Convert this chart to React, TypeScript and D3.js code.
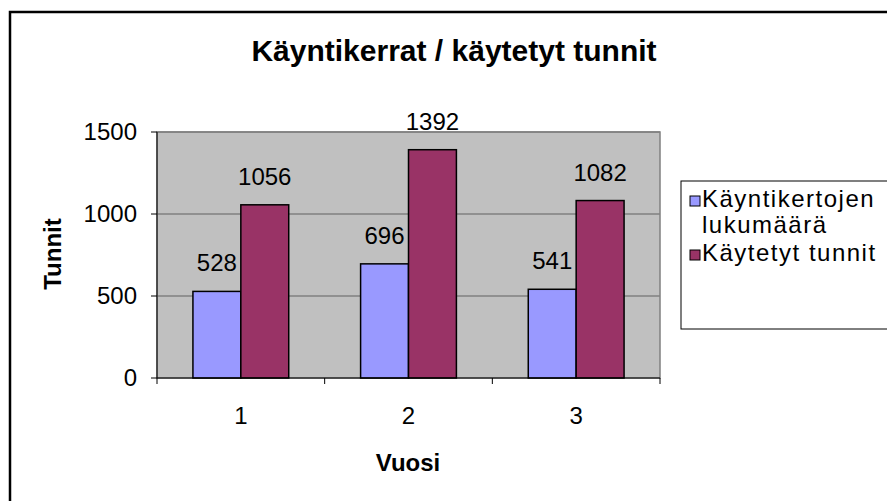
import React from "react";
import * as d3 from "d3";

const years = ["1", "2", "3"];
const seriesNames = ["Käyntikertojen lukumäärä", "Käytetyt tunnit"];
const visits = [528, 696, 541];
const hours = [1056, 1392, 1082];
const yTicks = [0, 500, 1000, 1500];
const colors = ["#9999FF", "#993366"];

const font = "'Liberation Sans', Arial, sans-serif";

export default function App() {
  const plot = { left: 157, right: 660, top: 132, bottom: 378 };

  const x = d3.scaleBand().domain(years).range([plot.left, plot.right]);
  // two bars per group, gap width 150% of a bar
  const x1 = d3
    .scaleBand()
    .domain(seriesNames)
    .range([0, x.bandwidth()])
    .paddingOuter(0.75);
  const y = d3.scaleLinear().domain([0, 1500]).range([plot.bottom, plot.top]);

  const rows = years.map((yr, i) => ({ year: yr, values: [visits[i], hours[i]] }));

  return (
    <svg
      width={887}
      height={501}
      style={{ position: "absolute", left: 0, top: 0, background: "#fff" }}
    >
      <rect x={10} y={12} width={900} height={520} fill="#fff" stroke="#000" strokeWidth={2.5} />

      <text x={454} y={61} textAnchor="middle" fontFamily={font} fontWeight="bold" fontSize={30}>
        Käyntikerrat / käytetyt tunnit
      </text>

      {/* plot area */}
      <rect
        x={plot.left}
        y={plot.top}
        width={plot.right - plot.left}
        height={plot.bottom - plot.top}
        fill="#C0C0C0"
        stroke="#808080"
        strokeWidth={1.5}
      />
      {yTicks.slice(1).map((t) => (
        <line key={t} x1={plot.left} x2={plot.right} y1={y(t)} y2={y(t)} stroke="#808080" strokeWidth={1.5} />
      ))}

      {rows.map((r) =>
        r.values.map((v, j) => (
          <g key={r.year + j}>
            <rect
              x={(x(r.year) as number) + (x1(seriesNames[j]) as number)}
              y={y(v)}
              width={x1.bandwidth()}
              height={plot.bottom - y(v)}
              fill={colors[j]}
              stroke="#000"
              strokeWidth={1.5}
            />
            <text
              x={(x(r.year) as number) + (x1(seriesNames[j]) as number) + x1.bandwidth() / 2}
              y={y(v) - 20}
              textAnchor="middle"
              fontFamily={font}
              fontSize={24}
            >
              {v}
            </text>
          </g>
        ))
      )}

      {/* y axis */}
      <line x1={plot.left} x2={plot.left} y1={plot.top} y2={plot.bottom} stroke="#000" strokeWidth={1} />
      {yTicks.map((t) => (
        <g key={t}>
          <line x1={plot.left - 6} x2={plot.left} y1={y(t)} y2={y(t)} stroke="#000" strokeWidth={1} />
          <text x={plot.left - 20} y={y(t) + 8} textAnchor="end" fontFamily={font} fontSize={24}>
            {t}
          </text>
        </g>
      ))}

      {/* x axis */}
      <line x1={plot.left} x2={plot.right} y1={plot.bottom} y2={plot.bottom} stroke="#000" strokeWidth={1} />
      {[...years.map((yr) => x(yr) as number), plot.right].map((px, i) => (
        <line key={i} x1={px} x2={px} y1={plot.bottom} y2={plot.bottom + 6} stroke="#000" strokeWidth={1} />
      ))}
      {years.map((yr) => (
        <text
          key={yr}
          x={(x(yr) as number) + x.bandwidth() / 2}
          y={424}
          textAnchor="middle"
          fontFamily={font}
          fontSize={24}
        >
          {yr}
        </text>
      ))}

      <text x={408} y={471} textAnchor="middle" fontFamily={font} fontWeight="bold" fontSize={24}>
        Vuosi
      </text>
      <text
        transform="translate(61,254) rotate(-90)"
        textAnchor="middle"
        fontFamily={font}
        fontWeight="bold"
        fontSize={24}
      >
        Tunnit
      </text>

      {/* legend */}
      <rect x={681} y={181} width={230} height={148} fill="#fff" stroke="#000" strokeWidth={1} />
      <rect x={690} y={196} width={10} height={10} fill={colors[0]} stroke="#000" strokeWidth={1} />
      <text x={702} y={207} fontFamily={font} fontSize={24} letterSpacing={1.5}>Käyntikertojen</text>
      <text x={702} y={233} fontFamily={font} fontSize={24} letterSpacing={1.5}>lukumäärä</text>
      <rect x={690} y={250} width={10} height={10} fill={colors[1]} stroke="#000" strokeWidth={1} />
      <text x={702} y={261} fontFamily={font} fontSize={24} letterSpacing={1.5}>Käytetyt tunnit</text>
    </svg>
  );
}
